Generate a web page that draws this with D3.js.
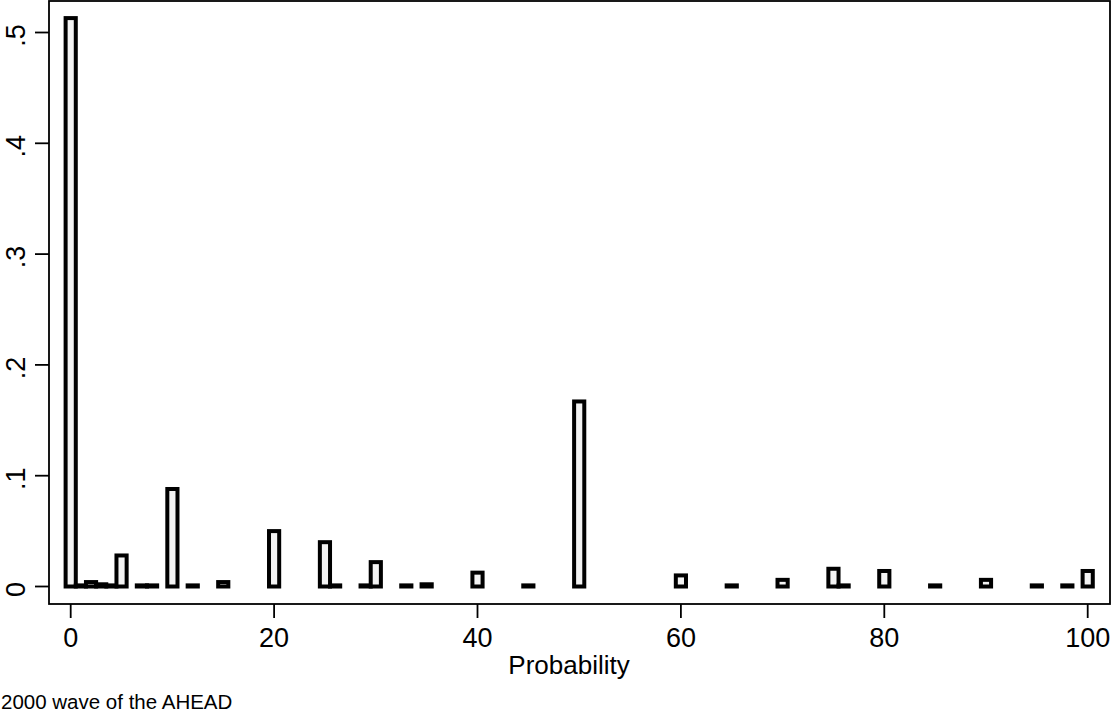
<!DOCTYPE html>
<html>
<head>
<meta charset="utf-8">
<script src="https://cdn.jsdelivr.net/npm/d3@7"></script>
<style>
  html, body { margin: 0; padding: 0; background: #fff; }
  svg { display: block; }
  text { font-family: "Liberation Sans", Arial, sans-serif; fill: #000; }
</style>
</head>
<body>
<svg id="chart" width="1113" height="713"></svg>
<script>
// Data: discrete histogram of probability responses (density)
const probs   = [0, 1, 2, 3, 4, 5, 7, 8, 10, 12, 15, 20, 25, 26, 29, 30, 33, 35, 40, 45, 50, 60, 65, 70, 75, 76, 80, 85, 90, 95, 98, 100];
const density = [0.513, 0.001, 0.004, 0.002, 0.001, 0.028, 0.001, 0.001, 0.088, 0.001, 0.004, 0.050, 0.040, 0.001, 0.001, 0.022, 0.001, 0.002, 0.0125, 0.001, 0.167, 0.010, 0.001, 0.006, 0.016, 0.001, 0.014, 0.001, 0.006, 0.001, 0.001, 0.014];
const xTicks = [0, 20, 40, 60, 80, 100];
const yTicks = [0, 0.1, 0.2, 0.3, 0.4, 0.5];
const yTickLabels = ["0", ".1", ".2", ".3", ".4", ".5"];
const xTitle = "Probability";
const note = "2000 wave of the AHEAD";

const svg = d3.select("#chart");
const L = 49, R = 1110, T = 1, B = 604;

// scales: tick 0 at x≈70.7, 100 at x≈1087.7 ; y 0 at 586.5, .5 at 32.5
const x = d3.scaleLinear().domain([0, 100]).range([70.7, 1087.7]);
const y = d3.scaleLinear().domain([0, 0.5]).range([586.5, 32.5]);
const bw = x(1) - x(0);

// bars
svg.append("g").selectAll("rect")
  .data(probs.map((p, i) => ({p, v: density[i]})))
  .join("rect")
  .attr("x", d => x(d.p) - bw / 2)
  .attr("width", bw)
  .attr("y", d => y(d.v))
  .attr("height", d => y(0) - y(d.v))
  .attr("fill", "#f3f3f3")
  .attr("stroke", "#000")
  .attr("stroke-width", 4);

// frame
svg.append("rect")
  .attr("x", L).attr("y", T).attr("width", R - L).attr("height", B - T)
  .attr("fill", "none").attr("stroke", "#000").attr("stroke-width", 1.8);

// y axis
const yAxis = svg.append("g");
yAxis.selectAll("line").data(yTicks).join("line")
  .attr("x1", L - 14).attr("x2", L)
  .attr("y1", d => y(d)).attr("y2", d => y(d))
  .attr("stroke", "#000").attr("stroke-width", 1.8);
yAxis.selectAll("text").data(yTicks).join("text")
  .attr("transform", d => `translate(25,${y(d) + 3}) rotate(-90)`)
  .attr("text-anchor", "middle")
  .attr("font-size", 27)
  .text((d, i) => yTickLabels[i]);

// x axis
const xAxis = svg.append("g");
xAxis.selectAll("line").data(xTicks).join("line")
  .attr("x1", d => x(d)).attr("x2", d => x(d))
  .attr("y1", B).attr("y2", B + 14)
  .attr("stroke", "#000").attr("stroke-width", 1.8);
xAxis.selectAll("text").data(xTicks).join("text")
  .attr("x", d => x(d)).attr("y", 647)
  .attr("text-anchor", "middle")
  .attr("font-size", 27)
  .text(d => d);

svg.append("text")
  .attr("x", 569).attr("y", 674)
  .attr("text-anchor", "middle")
  .attr("font-size", 26)
  .text(xTitle);

svg.append("text")
  .attr("x", 1).attr("y", 709)
  .attr("font-size", 20.5)
  .text(note);
</script>
</body>
</html>
